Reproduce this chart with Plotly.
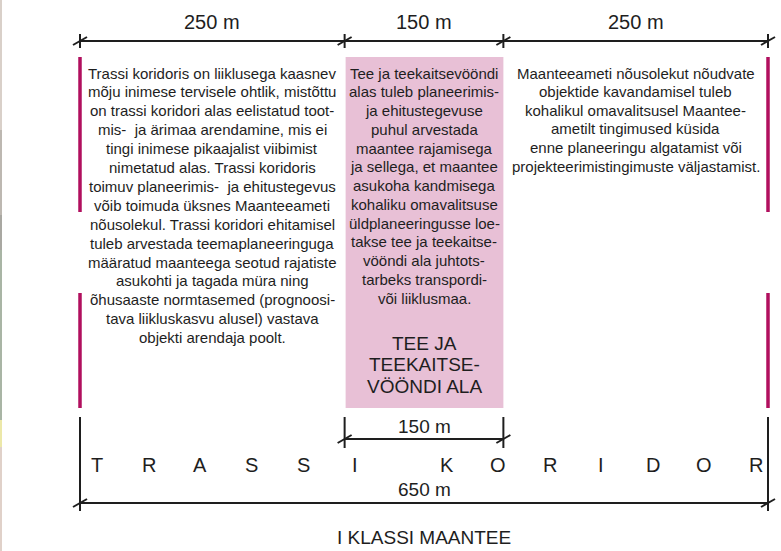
import plotly.graph_objects as go

# ---- data ----
segment_widths = [250, 150, 250]            # metres
segment_labels = ["250 m", "150 m", "250 m"]
corridor_total = 650
corridor_label = "650 m"
road_zone_label = "150 m"
corridor_word = ["TRASSI", "KORIDOR"]
road_title = "I KLASSI MAANTEE"
zone_title = ["TEE JA", "TEEKAITSE-", "VÖÖNDI ALA"]

left_text = [
    "Trassi koridoris on liiklusega kaasnev",
    "mõju inimese tervisele ohtlik, mistõttu",
    "on trassi koridori alas eelistatud toot-",
    "mis-  ja ärimaa arendamine, mis ei",
    "tingi inimese pikaajalist viibimist",
    "nimetatud alas. Trassi koridoris",
    "toimuv planeerimis-  ja ehitustegevus",
    "võib toimuda üksnes Maanteeameti",
    "nõusolekul. Trassi koridori ehitamisel",
    "tuleb arvestada teemaplaneeringuga",
    "määratud maanteega seotud rajatiste",
    "asukohti ja tagada müra ning",
    "õhusaaste normtasemed (prognoosi-",
    "tava liikluskasvu alusel) vastava",
    "objekti arendaja poolt.",
]
middle_text = [
    "Tee ja teekaitsevööndi",
    "alas tuleb planeerimis-",
    "ja ehitustegevuse",
    "puhul arvestada",
    "maantee rajamisega",
    "ja sellega, et maantee",
    "asukoha kandmisega",
    "kohaliku omavalitsuse",
    "üldplaneeringusse loe-",
    "takse tee ja teekaitse-",
    "vööndi ala juhtots-",
    "tarbeks transpordi-",
    "või liiklusmaa.",
]
right_text = [
    "Maanteeameti nõusolekut nõudvate",
    "objektide kavandamisel tuleb",
    "kohalikul omavalitsusel Maantee-",
    "ametilt tingimused küsida",
    "enne planeeringu algatamist või",
    "projekteerimistingimuste väljastamist.",
]

# ---- styling / layout helpers ----
W, H = 781, 551
PX0, PX1 = 80, 768                      # pixel positions of 0 m and 650 m
scale = (PX1 - PX0) / corridor_total    # px per metre
xr = [-PX0 / scale, (W - PX0) / scale]
def px(d):                               # pixel offset -> metres
    return d / scale

INK = "#1e1e1e"
MAGENTA = "#b10f5e"
PINK = "#e8c0d6"
FONT = "Liberation Sans"

bounds = [0]
for w in segment_widths:
    bounds.append(bounds[-1] + w)

shapes = []
def line(x0, y0, x1, y1, color=INK, width=2):
    shapes.append(dict(type="line", xref="x", yref="y", x0=x0, y0=y0, x1=x1, y1=y1,
                       line=dict(color=color, width=width)))

def tick(x, y, up=7, down=7):
    line(x, y - up, x, y + down)
    line(x - px(7), y + 4, x + px(7), y - 4)

# pink road zone
shapes.append(dict(type="rect", xref="x", yref="y", x0=bounds[1] + px(1), x1=bounds[2], y0=57, y1=408,
                   fillcolor=PINK, line=dict(width=0), layer="below"))

# top dimension line
line(bounds[0], 41, bounds[-1], 41)
for b in bounds:
    tick(b, 41)

# magenta bars
for xb in [bounds[0], bounds[-1]]:
    line(xb, 57, xb, 212, MAGENTA, 3.5)
    line(xb, 293, xb, 408, MAGENTA, 3.5)

# middle (150 m) dimension
for xb in [bounds[1], bounds[2]]:
    line(xb, 417, xb, 448)
    line(xb - px(7), 443, xb + px(7), 435)
line(bounds[1], 439, bounds[2], 439)

# bottom (650 m) dimension
for xb in [0, corridor_total]:
    line(xb, 417, xb, 511)
    line(xb - px(7), 507, xb + px(7), 499)
line(0, 503, corridor_total, 503)

# left edge map fragment strip
strip = [(0, 130, "#d9d0c9"), (130, 215, "#bdb8b1"), (215, 250, "#a9a8a2"),
         (250, 420, "#a9b5a5"), (420, 447, "#ece8a9"), (447, 551, "#e0d1c9")]
for y0, y1, c in strip:
    shapes.append(dict(type="rect", xref="paper", yref="y", x0=0, x1=2 / W, y0=y0, y1=y1,
                       fillcolor=c, line=dict(width=0)))

annotations = []
def text(x, y, t, size, yanchor="middle", color=INK):
    annotations.append(dict(x=x, y=y, xref="x", yref="y", text=t, showarrow=False,
                            xanchor="center", yanchor=yanchor, align="center",
                            font=dict(family=FONT, size=size, color=color)))

def block(x, y0, lines, size, spacing):
    for i, t in enumerate(lines):
        text(x, y0 + i * spacing, t, size)

# top labels
for i, lab in enumerate(segment_labels):
    text((bounds[i] + bounds[i + 1]) / 2, 22, lab, 20)

# text blocks
mids = [(bounds[i] + bounds[i + 1]) / 2 for i in range(3)]
block(mids[0], 73, left_text, 15, 18.9)
block(mids[1], 73, middle_text, 15, 18.75)
block(mids[2], 73, right_text, 15, 18.6)
block(mids[1], 343, zone_title, 19, 21.5)

# dimension labels
text(mids[1], 426, road_zone_label, 19)
text(mids[1], 489, corridor_label, 19)
text(mids[1], 537, road_title, 19)

# spaced corridor word
step = px(51.5)
x = px(97 - PX0)
for wi, word in enumerate(corridor_word):
    for ch in word:
        text(x, 465, ch, 20)
        x += step
    x += px(92 - 51.5)

fig = go.Figure()
fig.update_layout(
    width=W, height=H, margin=dict(l=0, r=0, t=0, b=0),
    paper_bgcolor="white", plot_bgcolor="white",
    xaxis=dict(range=xr, visible=False, fixedrange=True),
    yaxis=dict(range=[H, 0], visible=False, fixedrange=True),
    shapes=shapes, annotations=annotations, showlegend=False,
)
fig.write_html("out.html", config={"displayModeBar": False, "staticPlot": True},
               post_script="document.body.style.margin='0';")
